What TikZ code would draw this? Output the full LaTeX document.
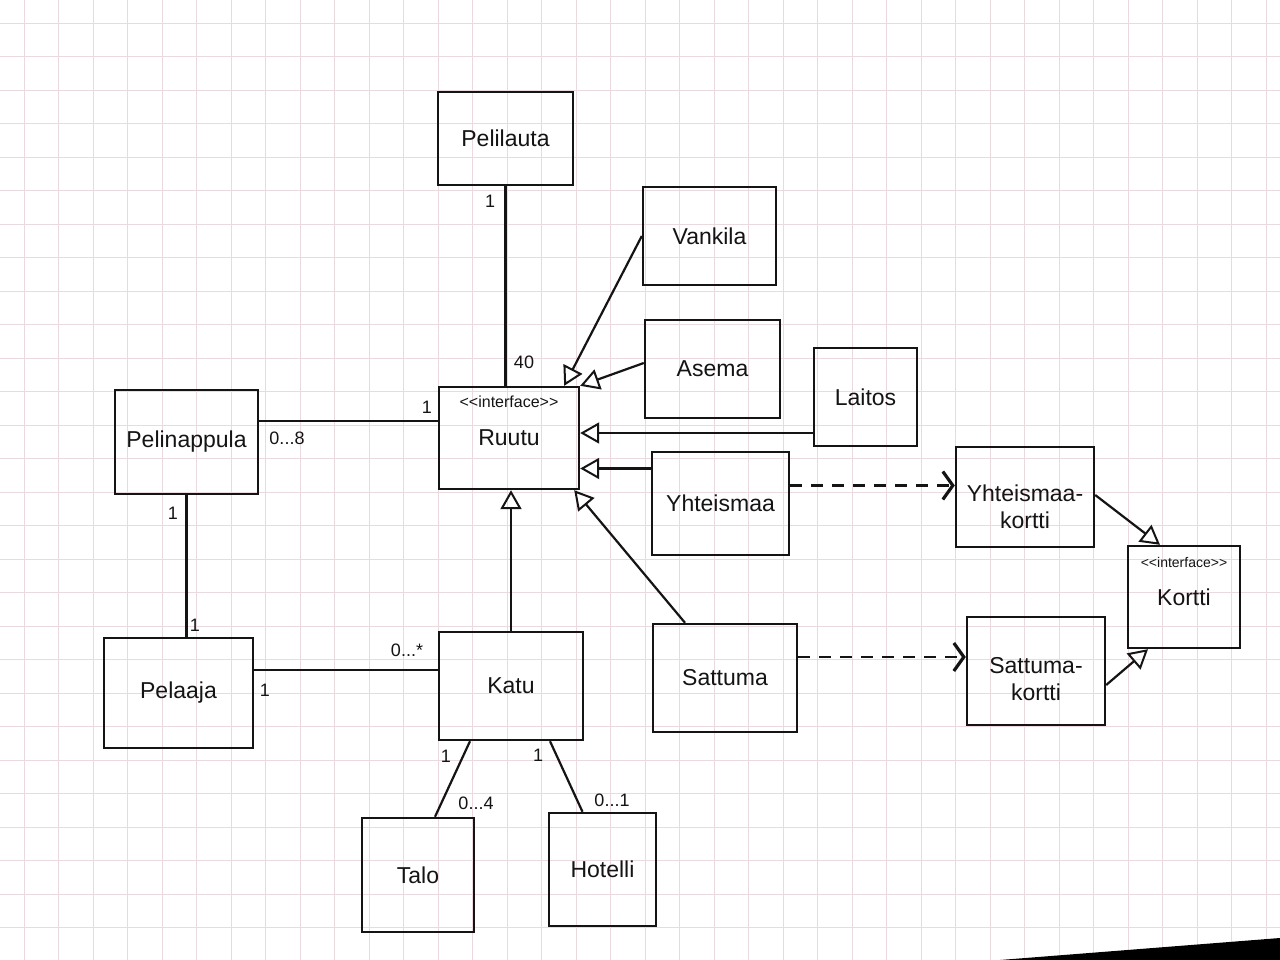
\documentclass[tikz,border=0pt]{standalone}
\usepackage{fontspec}
\setmainfont{Liberation Sans}
\usetikzlibrary{arrows.meta,calc}
\definecolor{gridc}{RGB}{234,218,221}
\definecolor{ink}{RGB}{20,20,20}
\begin{document}
\begin{tikzpicture}[x=1pt,y=-1pt,
  box/.style={draw=ink, line width=2.4pt, rectangle, inner sep=0pt, text=ink,
    font=\fontsize{23}{27}\selectfont, align=center},
  boxtext/.style={text=ink, font=\fontsize{23}{27}\selectfont, align=center, inner sep=0pt},
  conn/.style={draw=ink, line width=2.2pt},
  real/.style={conn, -{Triangle[open, length=19pt, width=21pt, line width=2pt]}},
  dep/.style={conn, dash pattern=on 12pt off 9pt, -{Straight Barb[length=10pt, width=28pt, line width=3.2pt]}},
  mult/.style={font=\fontsize{18}{20}\selectfont, text=ink, inner sep=1pt},
  iface/.style={font=\fontsize{16}{18}\selectfont, text=ink, inner sep=0pt}]
\useasboundingbox (0,0) rectangle (1280,960);
\fill[white] (0,0) rectangle (1280,960);
% grid paper
\foreach \gx in {24,58.5,...,1280} \draw[gridc, line width=0.7pt] (\gx,0) -- (\gx,960);
\foreach \gy in {23,56.5,...,960} \draw[gridc, line width=0.7pt] (0,\gy) -- (1280,\gy);
\fill[black] (1000,960) -- (1280,938) -- (1280,960) -- cycle;

% classes
\node[box, minimum width=135pt, minimum height=93pt] (pelilauta) at (505.5,138.5) {Pelilauta};
\node[box, minimum width=133pt, minimum height=98pt] (vankila) at (709.5,236) {Vankila};
\node[box, minimum width=135pt, minimum height=98pt] (asema) at (712.5,369) {Asema};
\node[box, minimum width=103pt, minimum height=98pt] (laitos) at (865.5,397) {Laitos};
\node[box, minimum width=140pt, minimum height=102pt,
  label={[iface, anchor=north, yshift=-10pt]north:{{<}{<}interface{>}{>}}}] (ruutu) at (509,438) {\raisebox{-8pt}{Ruutu}};
\node[box, minimum width=143pt, minimum height=104pt] (pelinappula) at (186.5,442) {Pelinappula};
\node[box, minimum width=149pt, minimum height=110pt] (pelaaja) at (178.5,693) {Pelaaja};
\node[box, minimum width=144pt, minimum height=108pt] (katu) at (511,686) {Katu};
\node[box, minimum width=112pt, minimum height=114pt] (talo) at (418,875) {Talo};
\node[box, minimum width=107pt, minimum height=113pt] (hotelli) at (602.5,869.5) {Hotelli};
\node[box, minimum width=137pt, minimum height=103pt] (yhteismaa) at (720.5,503.5) {Yhteismaa};
\node[box, minimum width=144pt, minimum height=108pt] (sattuma) at (725,678) {Sattuma};
\node[box, minimum width=138pt, minimum height=100pt,
  label={[boxtext, yshift=-10pt]center:{Yhteismaa-\\kortti}}] (ykortti) at (1025,497) {};
\node[box, minimum width=138pt, minimum height=108pt,
  label={[boxtext, yshift=-8pt]center:{Sattuma-\\kortti}}] (skortti) at (1036,671) {};
\node[box, minimum width=112pt, minimum height=102pt,
  label={[iface, anchor=north, yshift=-12pt, font=\fontsize{14}{16}\selectfont]north:{{<}{<}interface{>}{>}}}] (kortti) at (1184,597) {\raisebox{-4pt}{Kortti}};

% associations
\draw[conn] (pelilauta.south) -- (pelilauta.south |- ruutu.north);
\draw[conn] ([yshift=21pt]pelinappula.east) -- ([yshift=21pt]pelinappula.east -| ruutu.west);
\draw[conn] (pelinappula.south) -- (pelinappula.south |- pelaaja.north);
\draw[conn] ([yshift=23pt]pelaaja.east) -- ([yshift=23pt]pelaaja.east -| katu.west);
\draw[conn] ([xshift=-41pt]katu.south) -- ([xshift=17pt]talo.north);
\draw[conn] ([xshift=39pt]katu.south) -- ([xshift=-20pt]hotelli.north);

% realizations
\draw[real] (vankila.west) -- ([xshift=-16pt]ruutu.north east);
\draw[real] ([yshift=6pt]asema.west) -- (ruutu.north east);
\draw[real] ([yshift=-36pt]laitos.west) -- ([yshift=-36pt]laitos.west -| ruutu.east);
\draw[real] ([yshift=35pt]yhteismaa.west) -- ([yshift=35pt]yhteismaa.west -| ruutu.east);
\draw[real] ([xshift=-40pt]sattuma.north) -- ([xshift=-6pt]ruutu.south east);
\draw[real] (katu.north) -- (katu.north |- ruutu.south);
\draw[real] ([yshift=2pt]ykortti.east) -- ([xshift=-24pt]kortti.north);
\draw[real] ([yshift=-14pt]skortti.east) -- ([xshift=-36pt]kortti.south);

% dependencies
\draw[dep] ([yshift=18pt]yhteismaa.east) -- ([yshift=18pt]yhteismaa.east -| ykortti.west);
\draw[dep] ([yshift=21pt]sattuma.east) -- ([yshift=21pt]sattuma.east -| skortti.west);

% multiplicities
\node[mult] (m1) at (490,201) {1};
\node[mult] (m2) at (524,362) {40};
\node[mult] (m3) at (427,407) {1};
\node[mult] (m4) at (287,438) {0...8};
\node[mult] (m5) at (173,513) {1};
\node[mult] (m6) at (195,625) {1};
\node[mult] (m7) at (265,690) {1};
\node[mult] (m8) at (407,650) {0...*};
\node[mult] (m9) at (446,756) {1};
\node[mult] (m10) at (476,803) {0...4};
\node[mult] (m11) at (538,755) {1};
\node[mult] (m12) at (612,800) {0...1};
\end{tikzpicture}
\end{document}
